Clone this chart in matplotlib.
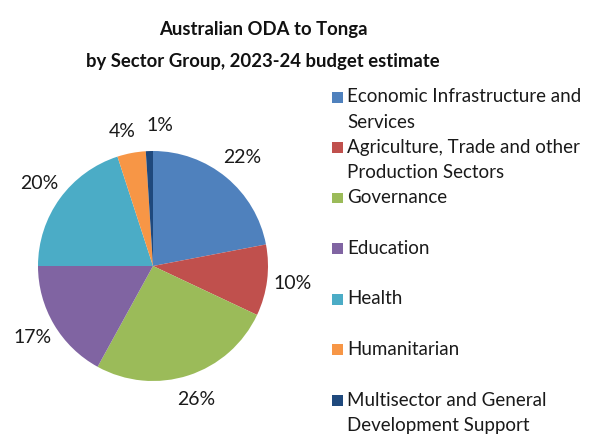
import matplotlib.pyplot as plt
from matplotlib.patches import Rectangle

plt.rcParams['font.family'] = ['Lato', 'DejaVu Sans']

# sectors (legend text wrapped as in the original)
sectors = ['Economic Infrastructure and\nServices',
           'Agriculture, Trade and other\nProduction Sectors',
           'Governance',
           'Education',
           'Health',
           'Humanitarian',
           'Multisector and General\nDevelopment Support']
shares = [22, 10, 26, 17, 20, 4, 1]
colours = ['#4F81BD', '#C0504D', '#9BBB59', '#8064A2', '#4BACC6', '#F79646', '#1F497D']

W, H = 600, 446
fig = plt.figure(figsize=(W / 100, H / 100), dpi=100)

# pie: centre ~ (153, 266) px, radius ~ 115 px
r_px = 115
lim = 1.3
ax = fig.add_axes([(153 - lim * r_px) / W, (H - 266 - lim * r_px) / H,
                   2 * lim * r_px / W, 2 * lim * r_px / H])
wedges, texts, pcts = ax.pie(shares, colors=colours, startangle=90, counterclock=False,
                             autopct='%.0f%%', pctdistance=1.22, radius=1,
                             textprops={'fontsize': 14, 'color': '#1a1a1a'},
                             wedgeprops={'linewidth': 0})
# small slices: spread the two labels apart a little, like Excel does
x, y = pcts[-1].get_position()
pcts[-1].set_position((x + 0.1, y))
x, y = pcts[-2].get_position()
pcts[-2].set_position((x - 0.04, y - 0.03))
ax.set_xlim(-lim, lim)
ax.set_ylim(-lim, lim)
ax.set_aspect('equal')
ax.axis('off')

fig.text(263 / W, 1 - 29 / H, 'Australian ODA to Tonga', ha='center', va='center',
         fontsize=13.3, fontweight='bold', color='#111111')
fig.text(263 / W, 1 - 61 / H, 'by Sector Group, 2023-24 budget estimate', ha='center',
         va='center', fontsize=13.3, fontweight='bold', color='#111111')

# legend, drawn by hand so markers sit on the first line like in Excel
y0, step, line_h = 97, 50.5, 25
for i, (name, c) in enumerate(zip(sectors, colours)):
    y = y0 + i * step
    fig.patches.append(Rectangle((332 / W, 1 - (y + 5.5) / H), 11 / W, 11 / H,
                                 transform=fig.transFigure, facecolor=c,
                                 edgecolor='none'))
    for j, line in enumerate(name.split('\n')):
        fig.text(347 / W, 1 - (y + j * line_h) / H, line, ha='left', va='center',
                 fontsize=13.5, color='#1a1a1a')

fig.savefig('out.png', dpi=100, facecolor='white')
